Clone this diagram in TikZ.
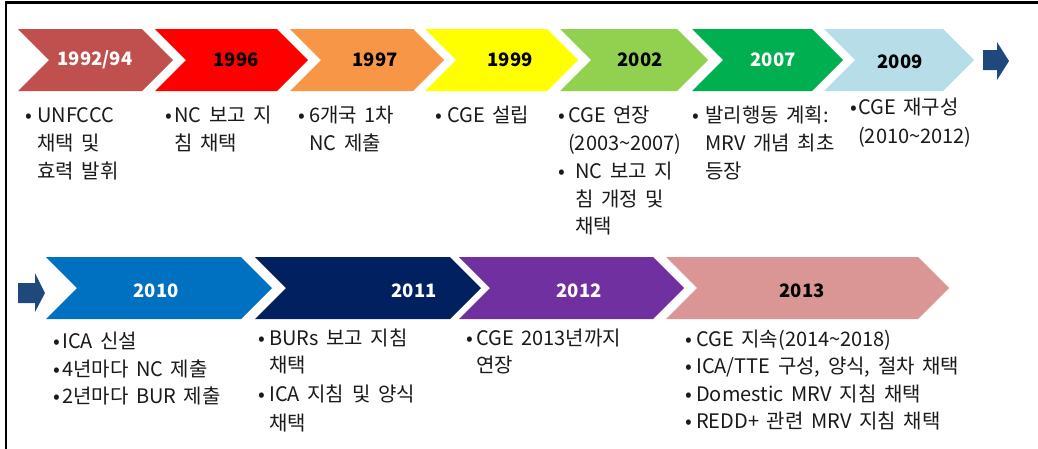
\documentclass[tikz,border=0pt]{standalone}
\usepackage{fontspec}
\newfontfamily\kr{Noto Sans CJK KR}[WordSpace=1.7]
\definecolor{c1}{HTML}{C0504D}
\definecolor{c2}{HTML}{FF0000}
\definecolor{c3}{HTML}{F79646}
\definecolor{c4}{HTML}{FFFF00}
\definecolor{c5}{HTML}{92D050}
\definecolor{c6}{HTML}{00B050}
\definecolor{c7}{HTML}{B7DDE8}
\definecolor{c8}{HTML}{0070C0}
\definecolor{c9}{HTML}{002060}
\definecolor{c10}{HTML}{7030A0}
\definecolor{c11}{HTML}{D99694}
\definecolor{arr}{HTML}{1F497D}
\definecolor{txt}{HTML}{1A1A1A}
\newcommand\chevshape[4]{\fill[#4] (#1,{#3-31}) -- (#2,{#3-31}) -- ({#2+31},#3) -- (#2,{#3+31}) -- (#1,{#3+31}) -- ({#1+31},#3) -- cycle;}
\newcommand\tl{\textasciitilde}
\tikzset{
  body/.style={anchor=base west, inner sep=0pt, font=\kr\fontsize{20}{28}\selectfont, text=txt},
  yr/.style={inner sep=0pt, font=\kr\bfseries\fontsize{18.5}{20}\selectfont},
  frame/.style={line width=2.5pt, black}
}
\begin{document}
\begin{tikzpicture}[x=1pt,y=-1pt]
\useasboundingbox (0,0) rectangle (1038,448);
\fill[white] (0,0) rectangle (1038,448);
% frame
\draw[frame] (6,450) -- (6,2.5) -- (1040,2.5);
% top row chevrons
\chevshape{18}{142}{60}{c1}
\chevshape{155}{277}{60}{c2}
\chevshape{290}{413}{60}{c3}
\chevshape{425}{547}{60}{c4}
\chevshape{560}{677}{60}{c5}
\chevshape{692}{812}{60}{c6}
\chevshape{824}{943}{60}{c7}
\fill[arr] (983,50) -- (997,50) -- (997,42) -- (1009,61) -- (997,80) -- (997,70) -- (983,70) -- cycle;
% bottom row chevrons
\fill[arr] (18,283) -- (35,283) -- (35,273) -- (45,293) -- (35,312) -- (35,303) -- (18,303) -- cycle;
\chevshape{46}{241}{288}{c8}
\chevshape{255}{450}{288}{c9}
\chevshape{459}{653}{288}{c10}
\chevshape{666}{918}{288}{c11}
% year labels
\node[yr, text=white] (y1) at (95,60) {1992/94};
\node[yr, text=black] (y2) at (236,60) {1996};
\node[yr, text=black] (y3) at (375,60) {1997};
\node[yr, text=black] (y4) at (510,60) {1999};
\node[yr, text=black] (y5) at (640,60) {2002};
\node[yr, text=white] (y6) at (773,60) {2007};
\node[yr, text=black] (y7) at (900,62) {2009};
\node[yr, text=white] (y8) at (156,291) {2010};
\node[yr, text=white] (y9) at (414,291) {2011};
\node[yr, text=white] (y10) at (579,291) {2012};
\node[yr, text=black] (y11) at (802,291) {2013};
% top texts
\node[body] (a0) at (25,122) {•};
\node[body] (a1) at (37,122) {UNFCCC};
\node[body] (a2) at (37,150) {채택 및};
\node[body] (a3) at (37,178) {효력 발휘};
\node[body] (b0) at (165,122) {•};
\node[body] (b1) at (174,122) {NC 보고 지};
\node[body] (b2) at (174,150) {침 채택};
\node[body] (c0) at (298,122) {•};
\node[body] (c1) at (309,122) {6개국 1차};
\node[body] (c2) at (309,150) {NC 제출};
\node[body] (d0) at (435,122) {•};
\node[body] (d1) at (447,122) {CGE 설립};
\node[body] (e0) at (558,122) {•};
\node[body] (e1) at (568,122) {CGE 연장};
\node[body] (e2) at (568,150) {(2003\tl2007)};
\node[body] (e3) at (558,178) {•};
\node[body] (e4) at (575,178) {NC 보고 지};
\node[body] (e5) at (575,206) {침 개정 및};
\node[body] (e6) at (575,233) {채택};
\node[body] (f0) at (692,122) {•};
\node[body] (f1) at (705,122) {발리행동 계획:};
\node[body] (f2) at (705,150) {MRV 개념 최초};
\node[body] (f3) at (705,178) {등장};
\node[body] (g0) at (850,114) {•};
\node[body] (g1) at (858,114) {CGE 재구성};
\node[body] (g2) at (858,143) {(2010\tl2012)};
% bottom texts
\node[body] (h0) at (53,348) {•};
\node[body] (h1) at (62,348) {ICA 신설};
\node[body] (h2) at (53,376) {•};
\node[body] (h3) at (62,376) {4년마다 NC 제출};
\node[body] (h4) at (53,403) {•};
\node[body] (h5) at (62,403) {2년마다 BUR 제출};
\node[body] (i0) at (258,345) {•};
\node[body] (i1) at (269,345) {BURs 보고 지침};
\node[body] (i2) at (269,372) {채택};
\node[body] (i3) at (258,401) {•};
\node[body] (i4) at (269,401) {ICA 지침 및 양식};
\node[body] (i5) at (269,430) {채택};
\node[body] (j0) at (466,345) {•};
\node[body] (j1) at (476,345) {CGE 2013년까지};
\node[body] (j2) at (476,372) {연장};
\node[body] (k0) at (685,346) {•};
\node[body] (k1) at (696,346) {CGE 지속(2014\tl2018)};
\node[body] (k2) at (685,373) {•};
\node[body] (k3) at (696,373) {ICA/TTE 구성, 양식, 절차 채택};
\node[body] (k4) at (685,401) {•};
\node[body] (k5) at (696,401) {Domestic MRV 지침 채택};
\node[body] (k6) at (685,428) {•};
\node[body] (k7) at (696,428) {REDD+ 관련 MRV 지침 채택};
\end{tikzpicture}
\end{document}
